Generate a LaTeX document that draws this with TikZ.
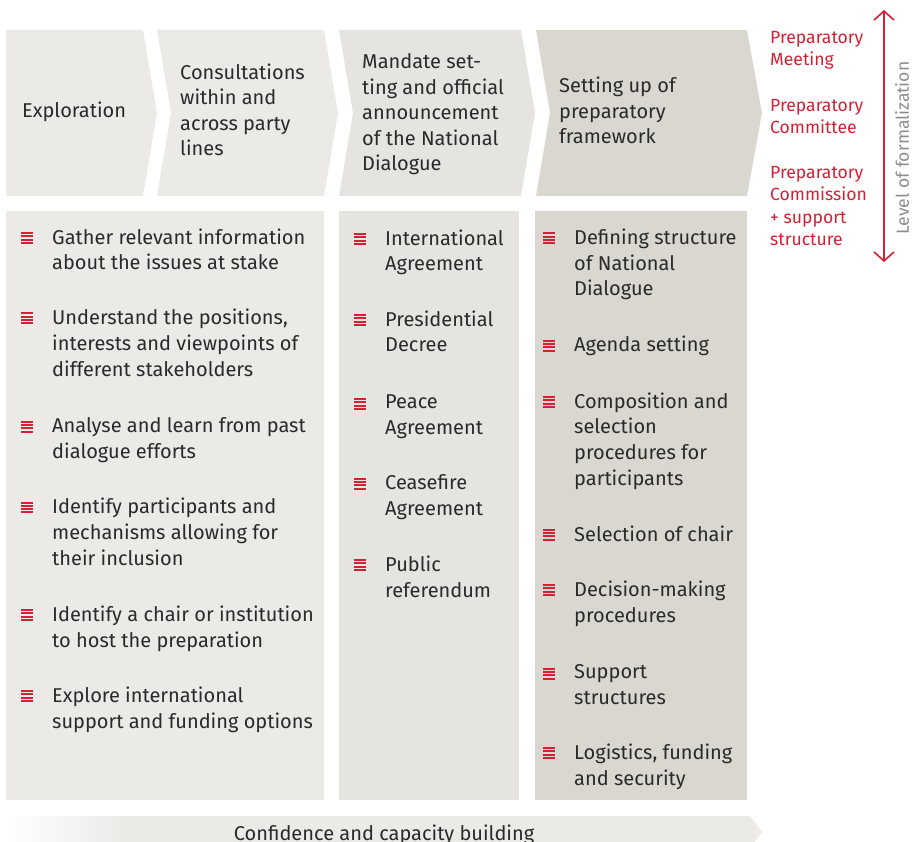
\documentclass[tikz,border=0pt]{standalone}
\usepackage{fontspec}
\setmainfont{Fira Sans}
\usepackage{xcolor}
\usetikzlibrary{arrows.meta}
\definecolor{paleA}{HTML}{EBEAE7}
\definecolor{paleB}{HTML}{E5E4E0}
\definecolor{paleC}{HTML}{DAD7D0}
\definecolor{fesred}{HTML}{D42034}
\definecolor{inkgray}{HTML}{2A2A2A}
\definecolor{axisgray}{HTML}{8C8C8C}
\newcommand\itemfont{\fontsize{20}{25.6}\selectfont}
\newcommand\sidefont{\fontsize{17.6}{22.6}\selectfont}
\pgfdeclarehorizontalshading{confidencefade}{100bp}{color(0bp)=(white); color(25bp)=(white); color(33bp)=(paleA); color(100bp)=(paleA)}

\tikzset{
  itemtext/.style={anchor=base west, align=left, inner sep=0pt, text=inkgray, font=\itemfont},
  sidetext/.style={anchor=base west, align=left, inner sep=0pt, text=fesred, font=\sidefont},
  markline/.style={fesred, line width=2pt},
  listmark/.pic={\foreach \k in {0,...,3} \draw[markline] (0,\k*3.33) -- (12,\k*3.33);},
  formarrow/.style={fesred, line width=1.6pt, {Straight Barb[length=9pt,width=20pt]}-{Straight Barb[length=9pt,width=20pt]}}
}

\begin{document}
\begin{tikzpicture}[x=1pt,y=-1pt]
      \useasboundingbox (0,0) rectangle (913,842);
      \clip (0,0) rectangle (913,842);

      % phases
      \fill[paleA] (6,30) -- (143,30) -- (157,113) -- (143,196) -- (6,196) -- cycle;
      \fill[paleA] (157,30) -- (324,30) -- (338,113) -- (324,196) -- (157,196) -- (171,113) -- cycle;
      \fill[paleB] (339,30) -- (521,30) -- (535,113) -- (521,196) -- (339,196) -- (353,113) -- cycle;
      \fill[paleC] (536,30) -- (747,30) -- (762,113) -- (747,196) -- (536,196) -- (550,113) -- cycle;

      \fill[paleA] (6,211) rectangle (324,800);
      \fill[paleB] (339,211) rectangle (519,800);
      \fill[paleC] (535,211) rectangle (747,800);

      \shade[shading=confidencefade] (6,816) -- (750,816) -- (762,832) -- (750,848) -- (6,848) -- cycle;

      % base = last line
      \coordinate (Expl) at (22, 118);
      \coordinate (Cons) at (180, 156);
      \coordinate (Mand) at (362, 171);
      \coordinate (Setup) at (559, 144);

      \node[itemtext] (expl) at (Expl) {Exploration};
      \node[itemtext] (cons) at (Cons) {Consultations\\within and\\across party\\lines};
      \node[itemtext] (mand) at (Mand) {Mandate set-\\ting and official\\announcement\\of the National\\Dialogue};
      \node[itemtext] (setup) at (Setup) {Setting up of\\preparatory\\framework};

      % exploration list
      \coordinate (Ea) at (52, 270);
      \coordinate (Eb) at (52, 376);
      \coordinate (Ec) at (52, 458);
      \coordinate (Ed) at (52, 565);
      \coordinate (Ee) at (52, 647);
      \coordinate (Ef) at (52, 728);

      \node[itemtext] (gather) at (Ea) {Gather relevant information\\about the issues at stake};
      \node[itemtext] (understand) at (Eb) {Understand the positions,\\interests and viewpoints of\\different stakeholders};
      \node[itemtext] (analyse) at (Ec) {Analyse and learn from past\\dialogue efforts};
      \node[itemtext] (identpart) at (Ed) {Identify participants and\\mechanisms allowing for\\their inclusion};
      \node[itemtext] (identchair) at (Ee) {Identify a chair or institution\\to host the preparation};
      \node[itemtext] (explore) at (Ef) {Explore international\\support and funding options};

      % mandate list
      \coordinate (Ma) at (385, 271);
      \coordinate (Mb) at (385, 352);
      \coordinate (Mc) at (385, 434);
      \coordinate (Md) at (385, 515);
      \coordinate (Me) at (385, 597);

      \node[itemtext] (intl) at (Ma) {International\\Agreement};
      \node[itemtext] (decree) at (Mb) {Presidential\\Decree};
      \node[itemtext] (peace) at (Mc) {Peace\\Agreement};
      \node[itemtext] (ceasefire) at (Md) {Ceasefire\\Agreement};
      \node[itemtext] (referendum) at (Me) {Public\\referendum};

      % framework list
      \coordinate (Sa) at (574, 296);
      \coordinate (Sb) at (574, 352);
      \coordinate (Sc) at (574, 485);
      \coordinate (Sd) at (574, 541);
      \coordinate (Se) at (574, 622);
      \coordinate (Sf) at (574, 704);
      \coordinate (Sg) at (574, 785);

      \node[itemtext] (structure) at (Sa) {Defining structure\\of National\\Dialogue};
      \node[itemtext] (agenda) at (Sb) {Agenda setting};
      \node[itemtext] (composition) at (Sc) {Composition and\\selection\\procedures for\\participants};
      \node[itemtext] (chair) at (Sd) {Selection of chair};
      \node[itemtext] (decision) at (Se) {Decision-making\\procedures};
      \node[itemtext] (support) at (Sf) {Support\\structures};
      \node[itemtext] (logistics) at (Sg) {Logistics, funding\\and security};

      % bullets next to first lines
      \foreach \n in {gather,understand,analyse,identpart,identchair,explore,intl,decree,peace,ceasefire,referendum,structure,agenda,composition,chair,decision,support,logistics}
        \pic at ([xshift=-31pt, yshift=-4.5pt]\n.north west) {listmark};

      % formalization scale
      \coordinate (Pmeet) at (770, 66);
      \coordinate (Pcomm) at (770, 134);
      \coordinate (Pcomn) at (770, 246);
      \node[sidetext] (prepmeet) at (Pmeet) {Preparatory\\Meeting};
      \node[sidetext] (prepcomm) at (Pcomm) {Preparatory\\Committee};
      \node[sidetext] (prepcomn) at (Pcomn) {Preparatory\\Commission\\+ support\\structure};

      \coordinate (Ftop) at (884, 10);
      \coordinate (Fbot) at (884, 262);
      \draw[formarrow] (Ftop) -- (Fbot);
      \node[rotate=90, inner sep=0pt, text=axisgray, font=\sidefont] (level) at (902, 148) {Level of formalization};

      \node[itemtext, anchor=base] (confidence) at (384, 840) {Confidence and capacity building};
    \end{tikzpicture}
\end{document}
